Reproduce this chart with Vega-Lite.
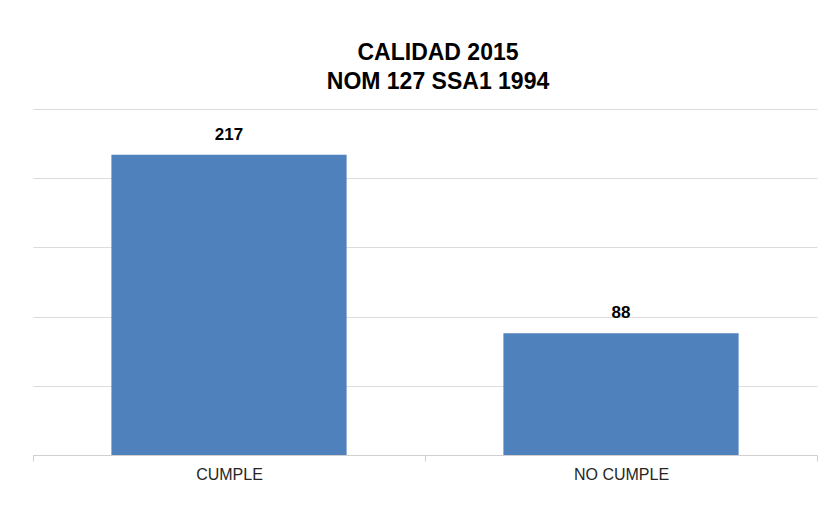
{
  "$schema": "https://vega.github.io/schema/vega-lite/v6.json",
  "autosize": {"type": "none"},
  "width": 784,
  "height": 346,
  "padding": {"left": 33, "top": 109, "right": 16, "bottom": 61},
  "background": "white",
  "title": {
    "text": ["CALIDAD 2015", "NOM 127 SSA1 1994"],
    "font": "Liberation Sans",
    "fontSize": 23,
    "fontWeight": "bold",
    "color": "#000000",
    "lineHeight": 29,
    "anchor": "middle",
    "frame": "group",
    "dx": 13,
    "offset": 15
  },
  "data": {
    "values": [
      {"categoria": "CUMPLE", "valor": 217},
      {"categoria": "NO CUMPLE", "valor": 88}
    ]
  },
  "encoding": {
    "x": {
      "field": "categoria",
      "type": "nominal",
      "sort": null,
      "title": null,
      "scale": {"paddingInner": 0, "paddingOuter": 0},
      "axis": {
        "labelAngle": 0,
        "labelFont": "Liberation Sans",
        "labelFontSize": 16,
        "labelColor": "#262626",
        "labelPadding": 5,
        "tickBand": "extent",
        "tickSize": 6,
        "tickColor": "#d0d0d0",
        "domainColor": "#d0d0d0",
        "grid": false
      }
    },
    "y": {
      "field": "valor",
      "type": "quantitative",
      "title": null,
      "scale": {"domain": [0, 250], "nice": false},
      "axis": {
        "values": [0, 50, 100, 150, 200, 250],
        "labels": false,
        "ticks": false,
        "domain": false,
        "grid": true,
        "gridColor": "#dcdcdc",
        "gridWidth": 1
      }
    }
  },
  "layer": [
    {"mark": {"type": "bar", "color": "#4f81bd", "width": {"band": 0.6}}},
    {
      "mark": {
        "type": "text",
        "baseline": "alphabetic",
        "dy": -15,
        "font": "Liberation Sans",
        "fontSize": 17,
        "fontWeight": "bold",
        "color": "#000000"
      },
      "encoding": {"text": {"field": "valor", "type": "quantitative"}}
    }
  ],
  "config": {"view": {"stroke": null}}
}
